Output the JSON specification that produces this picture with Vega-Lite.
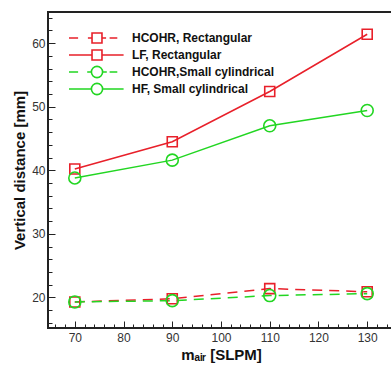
{
  "$schema": "https://vega.github.io/schema/vega-lite/v6.json",
  "autosize": {"type": "none"},
  "padding": {"left": 48, "top": 12, "right": 0, "bottom": 38},
  "width": 346,
  "height": 316,
  "background": "white",
  "config": {
    "view": {"stroke": "#222", "strokeWidth": 2},
    "font": "Liberation Sans",
    "axis": {
      "grid": false,
      "domain": false,
      "labelFont": "Liberation Sans",
      "labelFontSize": 12,
      "labelColor": "#333",
      "titleFont": "Liberation Sans",
      "titleFontSize": 15,
      "titleFontWeight": "bold",
      "titleColor": "#111",
      "tickColor": "#222",
      "tickWidth": 1
    },
    "legend": {
      "orient": "none",
      "legendX": 13,
      "legendY": 18,
      "padding": 0,
      "symbolSize": 196,
      "symbolOffset": 28,
      "symbolStrokeWidth": 1.6,
      "labelOffset": 27,
      "labelFont": "Liberation Sans",
      "labelFontSize": 12,
      "labelFontWeight": "bold",
      "labelColor": "#111",
      "labelLimit": 400,
      "rowPadding": -6,
      "symbolOpacity": 1
    }
  },
  "data": {
    "values": [
      {"series": "HCOHR, Rectangular", "m": 70, "v": 19.3},
      {"series": "HCOHR, Rectangular", "m": 90, "v": 19.8},
      {"series": "HCOHR, Rectangular", "m": 110, "v": 21.4},
      {"series": "HCOHR, Rectangular", "m": 130, "v": 20.9},
      {"series": "LF, Rectangular", "m": 70, "v": 40.2},
      {"series": "LF, Rectangular", "m": 90, "v": 44.5},
      {"series": "LF, Rectangular", "m": 110, "v": 52.4},
      {"series": "LF, Rectangular", "m": 130, "v": 61.4},
      {"series": "HCOHR,Small cylindrical", "m": 70, "v": 19.3},
      {"series": "HCOHR,Small cylindrical", "m": 90, "v": 19.5},
      {"series": "HCOHR,Small cylindrical", "m": 110, "v": 20.3},
      {"series": "HCOHR,Small cylindrical", "m": 130, "v": 20.6},
      {"series": "HF, Small cylindrical", "m": 70, "v": 38.8},
      {"series": "HF, Small cylindrical", "m": 90, "v": 41.6},
      {"series": "HF, Small cylindrical", "m": 110, "v": 47.0},
      {"series": "HF, Small cylindrical", "m": 130, "v": 49.4}
    ]
  },
  "encoding": {
    "x": {
      "field": "m", "type": "quantitative",
      "scale": {"domain": [64.5, 135.5], "nice": false, "zero": false},
      "axis": {
        "title": "mₐᵢᵣ [SLPM]",
        "values": [66,68,70,72,74,76,78,80,82,84,86,88,90,92,94,96,98,100,102,104,106,108,110,112,114,116,118,120,122,124,126,128,130,132,134],
        "labelExpr": "datum.value % 10 === 0 ? datum.label : ''",
        "tickSize": {"condition": {"test": "datum.value % 10 === 0", "value": -7}, "value": -4},
        "labelPadding": 11,
        "titlePadding": 4
      }
    },
    "y": {
      "field": "v", "type": "quantitative",
      "scale": {"domain": [15.2, 64.9], "nice": false, "zero": false},
      "axis": {
        "title": "Vertical distance [mm]",
        "values": [16,18,20,22,24,26,28,30,32,34,36,38,40,42,44,46,48,50,52,54,56,58,60,62,64],
        "labelExpr": "datum.value % 10 === 0 ? datum.label : ''",
        "tickSize": {"condition": {"test": "datum.value % 10 === 0", "value": -7}, "value": -4},
        "labelPadding": 10,
        "titlePadding": 4
      }
    }
  },
  "layer": [
    {
      "transform": [{"filter": "datum.series === 'HCOHR, Rectangular'"}],
      "mark": {"type": "line", "strokeWidth": 1.5, "color": "#e8202a", "strokeDash": [10, 7]},
      "encoding": {}
    },
    {
      "transform": [{"filter": "datum.series === 'LF, Rectangular'"}],
      "mark": {"type": "line", "strokeWidth": 1.5, "color": "#e8202a"},
      "encoding": {}
    },
    {
      "transform": [{"filter": "datum.series === 'HCOHR,Small cylindrical'"}],
      "mark": {"type": "line", "strokeWidth": 1.5, "color": "#22d622", "strokeDash": [10, 7]},
      "encoding": {}
    },
    {
      "transform": [{"filter": "datum.series === 'HF, Small cylindrical'"}],
      "mark": {"type": "line", "strokeWidth": 1.5, "color": "#22d622"},
      "encoding": {}
    },
    {
      "transform": [{"filter": "indexof(datum.series, 'Rectangular') >= 0"}],
      "mark": {"type": "point", "shape": "square", "filled": false, "size": 100, "strokeWidth": 1.6, "opacity": 1, "color": "#e8202a"},
      "encoding": {}
    },
    {
      "transform": [{"filter": "indexof(datum.series, 'cylindrical') >= 0"}],
      "mark": {"type": "point", "shape": "circle", "filled": false, "size": 144, "strokeWidth": 1.6, "opacity": 1, "color": "#22d622"},
      "encoding": {}
    },
    {
      "mark": {"type": "point", "filled": false, "strokeWidth": 1.6, "strokeOpacity": 0, "size": 196},
      "encoding": {
        "color": {
          "field": "series", "type": "nominal",
          "scale": {
            "domain": ["HCOHR, Rectangular", "LF, Rectangular", "HCOHR,Small cylindrical", "HF, Small cylindrical"],
            "range": ["#e8202a", "#e8202a", "#22d622", "#22d622"]
          },
          "legend": {"title": null, "orient": "none", "legendX": 13, "legendY": 18}
        },
        "shape": {
          "field": "series", "type": "nominal",
          "scale": {
            "domain": ["HCOHR, Rectangular", "LF, Rectangular", "HCOHR,Small cylindrical", "HF, Small cylindrical"],
            "range": [
              "M-4,0H-2.7M-1.3,0H-0.71M0.71,0H1.3M1.8,0H2.9M-0.71,-0.71H0.71V0.71H-0.71Z",
              "M-4,0H-0.71M0.71,0H3.8M-0.71,-0.71H0.71V0.71H-0.71Z",
              "M-4,0H-2.7M-1.4,0H-0.8M0.8,0H1.4M1.8,0H2.9M0.8,0A0.8,0.8 0 1,1 -0.8,0A0.8,0.8 0 1,1 0.8,0Z",
              "M-4,0H-0.8M0.8,0H3.8M0.8,0A0.8,0.8 0 1,1 -0.8,0A0.8,0.8 0 1,1 0.8,0Z"
            ]
          },
          "legend": {"title": null, "orient": "none", "legendX": 13, "legendY": 18}
        }
      }
    }
  ]
}
